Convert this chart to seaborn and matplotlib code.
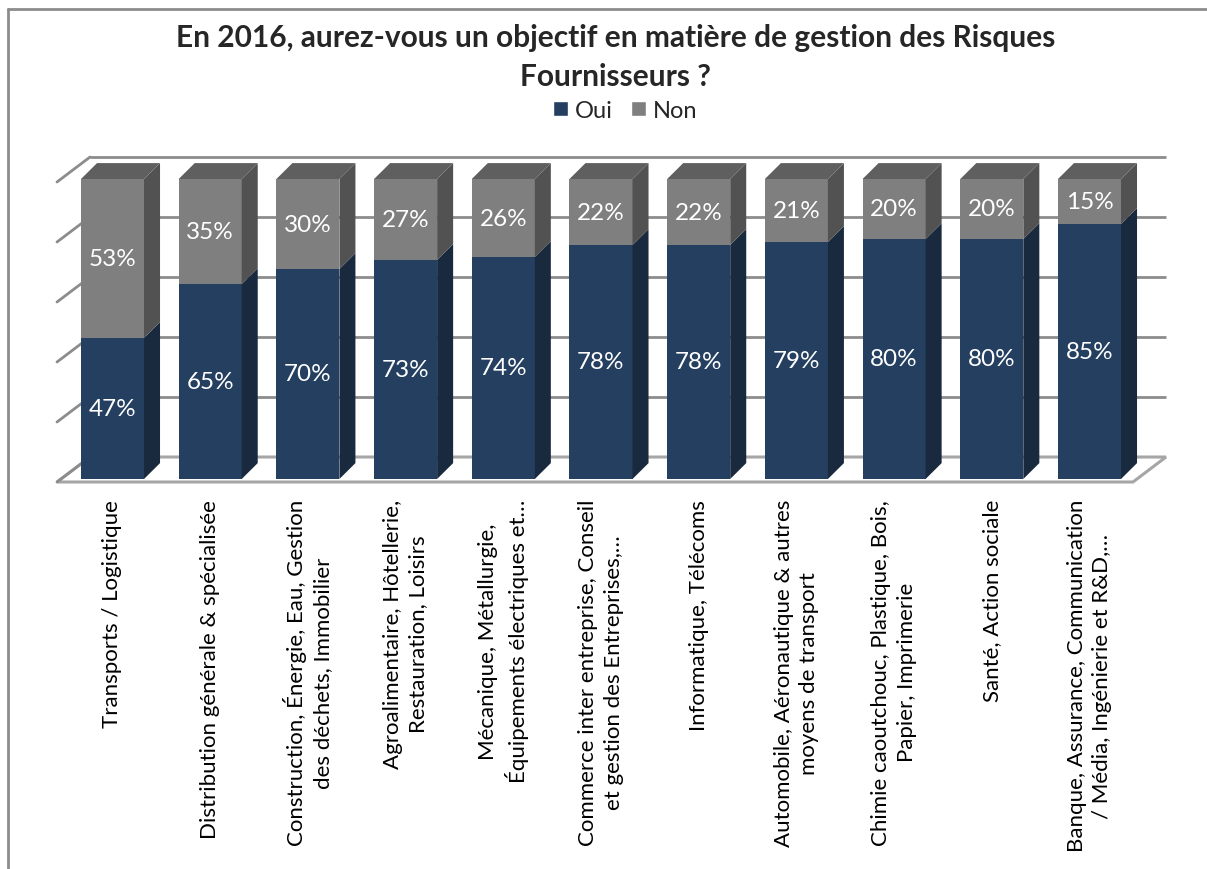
import matplotlib
matplotlib.use("Agg")
import matplotlib.pyplot as plt
from matplotlib.patches import Polygon, Patch
from matplotlib.lines import Line2D
import seaborn as sns
import pandas as pd

# Survey results by sector (percent of respondents)
sectors = [
    "Transports / Logistique",
    "Distribution générale & spécialisée",
    "Construction, Énergie, Eau, Gestion\ndes déchets, Immobilier",
    "Agroalimentaire, Hôtellerie,\nRestauration, Loisirs",
    "Mécanique, Métallurgie,\nÉquipements électriques et…",
    "Commerce inter entreprise, Conseil\net gestion des Entreprises,…",
    "Informatique, Télécoms",
    "Automobile, Aéronautique & autres\nmoyens de transport",
    "Chimie caoutchouc, Plastique, Bois,\nPapier, Imprimerie",
    "Santé, Action sociale",
    "Banque, Assurance, Communication\n/ Média, Ingénierie et R&D,…",
]
oui = [47, 65, 70, 73, 74, 78, 78, 79, 80, 80, 85]
non = [53, 35, 30, 27, 26, 22, 22, 21, 20, 20, 15]
series_names = ["Oui", "Non"]
title = "En 2016, aurez-vous un objectif en matière de gestion des Risques\nFournisseurs ?"

# Colours: front, side and top faces of each series
OUI_FRONT, OUI_SIDE = "#243f60", "#19293e"
NON_FRONT, NON_SIDE, NON_TOP = "#7f7f7f", "#525252", "#5f5f5f"
GRID = "#8c8c8c"

sns.set_style("white")
plt.rcParams["font.family"] = ["Lato", "DejaVu Sans"]

W, H = 1207, 870
fig = plt.figure(figsize=(W / 100, H / 100), dpi=100)
fig.patch.set_facecolor("white")

# axes mapped so one category unit = 97.7 px and one percent = 3 px
x0_px, x1_px, ytop_px, ybot_px = 40, 1190, 140, 500
ax = fig.add_axes([x0_px / W, (H - ybot_px) / H, (x1_px - x0_px) / W, (ybot_px - ytop_px) / H])

df = pd.DataFrame({"sector": sectors, "oui": oui, "non": non})
df["total"] = df["oui"] + df["non"]

bar_w = 0.645
sns.barplot(data=df, x="sector", y="total", color=NON_FRONT, width=bar_w,
            saturation=1, ax=ax, zorder=2, linewidth=0)
sns.barplot(data=df, x="sector", y="oui", color=OUI_FRONT, width=bar_w,
            saturation=1, ax=ax, zorder=2, linewidth=0)

xlim = ((x0_px - 112.5) / 97.7, (x1_px - 112.5) / 97.7)
ylim = ((480 - ybot_px) / 3, (480 - ytop_px) / 3)
ax.set_xlim(*xlim)
ax.set_ylim(*ylim)

# 3D depth offsets (data units)
bdx, bdy = 0.164, 5.3      # bar depth
wdx, wdy = 0.338, 8.33     # floor / wall depth
n = len(sectors)
left_front = -0.568
right_front = left_front + 11.013

# floor
floor = Polygon([(left_front, -1), (right_front, -1),
                 (right_front + wdx, -1 + wdy), (left_front + wdx, -1 + wdy)],
                closed=True, facecolor="white", edgecolor="#a6a6a6", lw=2.2, zorder=0.5)
ax.add_patch(floor)

# back-wall gridlines and left-wall diagonals
for v in range(0, 101, 20):
    yb = -1 + wdy + v
    if v > 0:
        ax.plot([left_front + wdx, right_front + wdx], [yb, yb], color=GRID, lw=2, zorder=0.6,
                solid_capstyle="butt")
    ax.plot([left_front, left_front + wdx], [-1 + v, yb], color=GRID, lw=2, zorder=0.6)

# side and top faces of each stacked bar
for i in range(n):
    xr = i + bar_w / 2
    xl = i - bar_w / 2
    segs = [(0, oui[i], OUI_SIDE), (oui[i], oui[i] + non[i], NON_SIDE)]
    for y0, y1, c in segs:
        ax.add_patch(Polygon([(xr, y0), (xr + bdx, y0 + bdy), (xr + bdx, y1 + bdy), (xr, y1)],
                             closed=True, facecolor=c, edgecolor="none", zorder=2))
    top = oui[i] + non[i]
    ax.add_patch(Polygon([(xl, top), (xl + bdx, top + bdy), (xr + bdx, top + bdy), (xr, top)],
                         closed=True, facecolor=NON_TOP, edgecolor="none", zorder=2))
    # value labels
    ax.text(i, oui[i] / 2, f"{oui[i]}%", ha="center", va="center", color="white",
            fontsize=17.5, zorder=4)
    ax.text(i, oui[i] + non[i] / 2, f"{non[i]}%", ha="center", va="center", color="white",
            fontsize=17.5, zorder=4)

ax.set_xticks(range(n))
ax.set_xticklabels(sectors, rotation=90, ha="center", va="top", fontsize=16,
                   multialignment="center", color="black", linespacing=1.35)
ax.tick_params(axis="x", length=0, pad=0)
ax.set_yticks([])
ax.set_xlabel("")
ax.set_ylabel("")
for s in ax.spines.values():
    s.set_visible(False)
ax.patch.set_alpha(0)

# title and legend
fig.text(0.51, 1 - 38 / H, title.split("\n")[0], ha="center", va="center",
         fontsize=21.5, fontweight="bold")
fig.text(0.51, 1 - 77 / H, title.split("\n")[1], ha="center", va="center",
         fontsize=21.5, fontweight="bold")
handles = [Patch(facecolor=OUI_FRONT, label=series_names[0]),
           Patch(facecolor=NON_FRONT, label=series_names[1])]
fig.legend(handles=handles, loc="center", bbox_to_anchor=(0.518, 1 - 111 / H), ncol=2,
           frameon=False, fontsize=17, handlelength=0.6, handleheight=0.6,
           handletextpad=0.3, columnspacing=0.8)

# chart frame (top and left edges)
fig.add_artist(Line2D([8 / W, 1], [1 - 10 / H, 1 - 10 / H], color="#8c8c8c", lw=2,
                      transform=fig.transFigure))
fig.add_artist(Line2D([8 / W, 8 / W], [0, 1 - 10 / H], color="#8c8c8c", lw=2,
                      transform=fig.transFigure))

fig.savefig("out.png", dpi=100)
